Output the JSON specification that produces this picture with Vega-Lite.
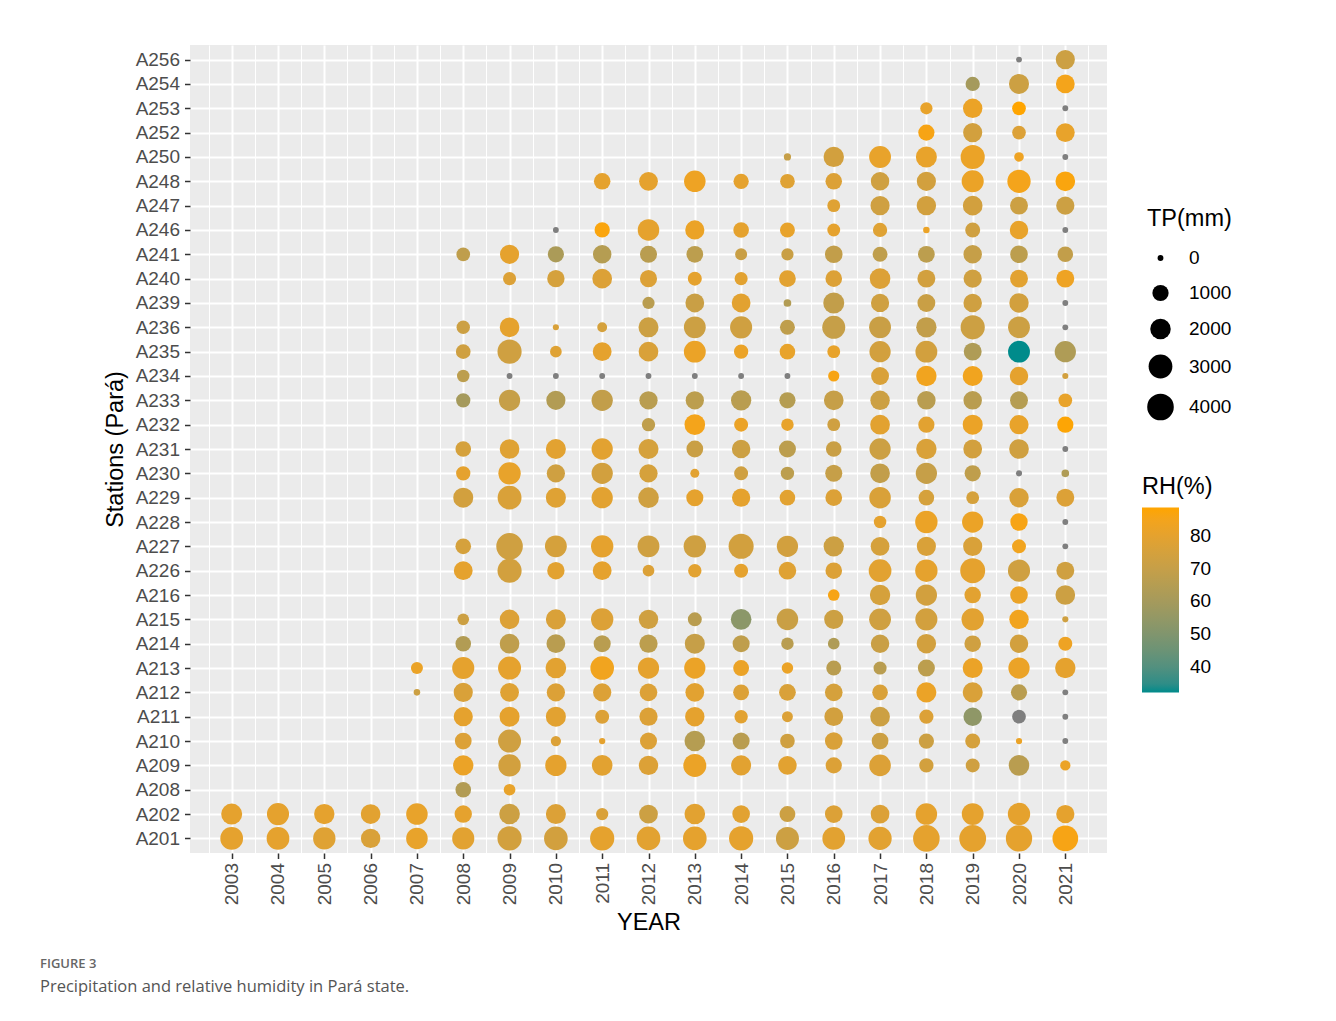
{
  "$schema": "https://vega.github.io/schema/vega-lite/v6.json",
  "autosize": "none",
  "padding": {"left": 190, "top": 45, "right": 229, "bottom": 168},
  "width": 917,
  "height": 808,
  "background": "white",
  "title": {
    "text": "FIGURE 3",
    "subtitle": "Precipitation and relative humidity in Pará state.",
    "orient": "bottom",
    "anchor": "start",
    "frame": "group",
    "dx": -150,
    "offset": 24,
    "font": "Open Sans",
    "fontSize": 13,
    "fontWeight": 600,
    "color": "#666666",
    "subtitleFont": "Open Sans",
    "subtitleFontSize": 16.5,
    "subtitleColor": "#555555",
    "subtitlePadding": 8
  },
  "config": {
    "font": "Liberation Sans",
    "view": {"fill": "#EBEBEB", "stroke": null},
    "axis": {
      "domain": false,
      "gridColor": "#FFFFFF",
      "labelFontSize": 19,
      "labelColor": "#4D4D4D",
      "tickColor": "#333333",
      "tickWidth": 1.5,
      "tickSize": 5.5,
      "titleFontSize": 23.5,
      "titleFontWeight": "normal",
      "titleColor": "#000000"
    },
    "legend": {
      "titleFontSize": 23.5,
      "titleFontWeight": "normal",
      "titleColor": "#000000",
      "labelFontSize": 19,
      "labelColor": "#000000"
    }
  },
  "data": {
    "values": [
      {"station": "A256", "year": 2020, "tp": 0, "rh": null},
      {"station": "A256", "year": 2021, "tp": 1670, "rh": 72},
      {"station": "A254", "year": 2019, "tp": 690, "rh": 60},
      {"station": "A254", "year": 2020, "tp": 1890, "rh": 72},
      {"station": "A254", "year": 2021, "tp": 1580, "rh": 85},
      {"station": "A253", "year": 2018, "tp": 400, "rh": 81},
      {"station": "A253", "year": 2019, "tp": 1730, "rh": 82},
      {"station": "A253", "year": 2020, "tp": 605, "rh": 88.5},
      {"station": "A253", "year": 2021, "tp": 0, "rh": null},
      {"station": "A252", "year": 2018, "tp": 1000, "rh": 86},
      {"station": "A252", "year": 2019, "tp": 1670, "rh": 74},
      {"station": "A252", "year": 2020, "tp": 605, "rh": 77},
      {"station": "A252", "year": 2021, "tp": 1580, "rh": 81},
      {"station": "A250", "year": 2015, "tp": 30, "rh": 70},
      {"station": "A250", "year": 2016, "tp": 1965, "rh": 74},
      {"station": "A250", "year": 2017, "tp": 2390, "rh": 81},
      {"station": "A250", "year": 2018, "tp": 2140, "rh": 81},
      {"station": "A250", "year": 2019, "tp": 3130, "rh": 82},
      {"station": "A250", "year": 2020, "tp": 140, "rh": 83},
      {"station": "A250", "year": 2021, "tp": 0, "rh": null},
      {"station": "A248", "year": 2011, "tp": 1070, "rh": 80},
      {"station": "A248", "year": 2012, "tp": 1580, "rh": 80},
      {"station": "A248", "year": 2013, "tp": 2290, "rh": 83},
      {"station": "A248", "year": 2014, "tp": 840, "rh": 80},
      {"station": "A248", "year": 2015, "tp": 745, "rh": 78},
      {"station": "A248", "year": 2016, "tp": 1070, "rh": 77},
      {"station": "A248", "year": 2017, "tp": 1515, "rh": 73},
      {"station": "A248", "year": 2018, "tp": 1670, "rh": 74},
      {"station": "A248", "year": 2019, "tp": 2470, "rh": 82},
      {"station": "A248", "year": 2020, "tp": 2835, "rh": 85},
      {"station": "A248", "year": 2021, "tp": 1800, "rh": 87},
      {"station": "A247", "year": 2016, "tp": 480, "rh": 78},
      {"station": "A247", "year": 2017, "tp": 1670, "rh": 73},
      {"station": "A247", "year": 2018, "tp": 1730, "rh": 74},
      {"station": "A247", "year": 2019, "tp": 1800, "rh": 74},
      {"station": "A247", "year": 2020, "tp": 1370, "rh": 72},
      {"station": "A247", "year": 2021, "tp": 1450, "rh": 72},
      {"station": "A246", "year": 2010, "tp": 0, "rh": null},
      {"station": "A246", "year": 2011, "tp": 840, "rh": 87},
      {"station": "A246", "year": 2012, "tp": 2290, "rh": 80},
      {"station": "A246", "year": 2013, "tp": 1670, "rh": 82},
      {"station": "A246", "year": 2014, "tp": 900, "rh": 80},
      {"station": "A246", "year": 2015, "tp": 790, "rh": 81},
      {"station": "A246", "year": 2016, "tp": 480, "rh": 80},
      {"station": "A246", "year": 2017, "tp": 690, "rh": 78},
      {"station": "A246", "year": 2018, "tp": 14, "rh": 82},
      {"station": "A246", "year": 2019, "tp": 790, "rh": 73},
      {"station": "A246", "year": 2020, "tp": 1515, "rh": 81},
      {"station": "A246", "year": 2021, "tp": 0, "rh": null},
      {"station": "A241", "year": 2008, "tp": 605, "rh": 68},
      {"station": "A241", "year": 2009, "tp": 1670, "rh": 80},
      {"station": "A241", "year": 2010, "tp": 1000, "rh": 62},
      {"station": "A241", "year": 2011, "tp": 1515, "rh": 65},
      {"station": "A241", "year": 2012, "tp": 1180, "rh": 66},
      {"station": "A241", "year": 2013, "tp": 1120, "rh": 67},
      {"station": "A241", "year": 2014, "tp": 370, "rh": 71},
      {"station": "A241", "year": 2015, "tp": 400, "rh": 71},
      {"station": "A241", "year": 2016, "tp": 1310, "rh": 69},
      {"station": "A241", "year": 2017, "tp": 790, "rh": 68},
      {"station": "A241", "year": 2018, "tp": 1120, "rh": 67},
      {"station": "A241", "year": 2019, "tp": 1515, "rh": 70},
      {"station": "A241", "year": 2020, "tp": 1310, "rh": 67},
      {"station": "A241", "year": 2021, "tp": 900, "rh": 69},
      {"station": "A240", "year": 2009, "tp": 515, "rh": 77},
      {"station": "A240", "year": 2010, "tp": 1250, "rh": 75},
      {"station": "A240", "year": 2011, "tp": 1800, "rh": 77},
      {"station": "A240", "year": 2012, "tp": 1180, "rh": 77},
      {"station": "A240", "year": 2013, "tp": 645, "rh": 80},
      {"station": "A240", "year": 2014, "tp": 515, "rh": 79},
      {"station": "A240", "year": 2015, "tp": 1120, "rh": 79},
      {"station": "A240", "year": 2016, "tp": 1070, "rh": 77},
      {"station": "A240", "year": 2017, "tp": 2040, "rh": 77},
      {"station": "A240", "year": 2018, "tp": 1370, "rh": 74},
      {"station": "A240", "year": 2019, "tp": 1450, "rh": 73},
      {"station": "A240", "year": 2020, "tp": 1370, "rh": 79},
      {"station": "A240", "year": 2021, "tp": 1370, "rh": 83},
      {"station": "A239", "year": 2012, "tp": 400, "rh": 66},
      {"station": "A239", "year": 2013, "tp": 1580, "rh": 71},
      {"station": "A239", "year": 2014, "tp": 1580, "rh": 79},
      {"station": "A239", "year": 2015, "tp": 42, "rh": 64},
      {"station": "A239", "year": 2016, "tp": 2140, "rh": 69},
      {"station": "A239", "year": 2017, "tp": 1450, "rh": 73},
      {"station": "A239", "year": 2018, "tp": 1370, "rh": 71},
      {"station": "A239", "year": 2019, "tp": 1515, "rh": 73},
      {"station": "A239", "year": 2020, "tp": 1730, "rh": 74},
      {"station": "A239", "year": 2021, "tp": 0, "rh": null},
      {"station": "A236", "year": 2008, "tp": 555, "rh": 72},
      {"station": "A236", "year": 2009, "tp": 1800, "rh": 80},
      {"station": "A236", "year": 2010, "tp": 5, "rh": 76},
      {"station": "A236", "year": 2011, "tp": 160, "rh": 75},
      {"station": "A236", "year": 2012, "tp": 1890, "rh": 72},
      {"station": "A236", "year": 2013, "tp": 2390, "rh": 72},
      {"station": "A236", "year": 2014, "tp": 2470, "rh": 73},
      {"station": "A236", "year": 2015, "tp": 790, "rh": 68},
      {"station": "A236", "year": 2016, "tp": 2750, "rh": 70},
      {"station": "A236", "year": 2017, "tp": 2390, "rh": 71},
      {"station": "A236", "year": 2018, "tp": 1965, "rh": 69},
      {"station": "A236", "year": 2019, "tp": 3130, "rh": 72},
      {"station": "A236", "year": 2020, "tp": 2390, "rh": 72},
      {"station": "A236", "year": 2021, "tp": 0, "rh": null},
      {"station": "A235", "year": 2008, "tp": 745, "rh": 73},
      {"station": "A235", "year": 2009, "tp": 3130, "rh": 73},
      {"station": "A235", "year": 2010, "tp": 330, "rh": 78},
      {"station": "A235", "year": 2011, "tp": 1580, "rh": 80},
      {"station": "A235", "year": 2012, "tp": 1800, "rh": 76},
      {"station": "A235", "year": 2013, "tp": 2390, "rh": 82},
      {"station": "A235", "year": 2014, "tp": 690, "rh": 82},
      {"station": "A235", "year": 2015, "tp": 900, "rh": 81},
      {"station": "A235", "year": 2016, "tp": 480, "rh": 81},
      {"station": "A235", "year": 2017, "tp": 2210, "rh": 74},
      {"station": "A235", "year": 2018, "tp": 2390, "rh": 74},
      {"station": "A235", "year": 2019, "tp": 1370, "rh": 63},
      {"station": "A235", "year": 2020, "tp": 2390, "rh": 32.4},
      {"station": "A235", "year": 2021, "tp": 2210, "rh": 63},
      {"station": "A234", "year": 2008, "tp": 430, "rh": 67},
      {"station": "A234", "year": 2009, "tp": 0, "rh": null},
      {"station": "A234", "year": 2010, "tp": 0, "rh": null},
      {"station": "A234", "year": 2011, "tp": 0, "rh": null},
      {"station": "A234", "year": 2012, "tp": 0, "rh": null},
      {"station": "A234", "year": 2013, "tp": 0, "rh": null},
      {"station": "A234", "year": 2014, "tp": 0, "rh": null},
      {"station": "A234", "year": 2015, "tp": 0, "rh": null},
      {"station": "A234", "year": 2016, "tp": 270, "rh": 86},
      {"station": "A234", "year": 2017, "tp": 1370, "rh": 76},
      {"station": "A234", "year": 2018, "tp": 1965, "rh": 84},
      {"station": "A234", "year": 2019, "tp": 1890, "rh": 84},
      {"station": "A234", "year": 2020, "tp": 1515, "rh": 80},
      {"station": "A234", "year": 2021, "tp": 5, "rh": 74},
      {"station": "A233", "year": 2008, "tp": 690, "rh": 60},
      {"station": "A233", "year": 2009, "tp": 2210, "rh": 70},
      {"station": "A233", "year": 2010, "tp": 1670, "rh": 64},
      {"station": "A233", "year": 2011, "tp": 2210, "rh": 69},
      {"station": "A233", "year": 2012, "tp": 1450, "rh": 66},
      {"station": "A233", "year": 2013, "tp": 1450, "rh": 67},
      {"station": "A233", "year": 2014, "tp": 1965, "rh": 66},
      {"station": "A233", "year": 2015, "tp": 1000, "rh": 65},
      {"station": "A233", "year": 2016, "tp": 1800, "rh": 70},
      {"station": "A233", "year": 2017, "tp": 1730, "rh": 72},
      {"station": "A233", "year": 2018, "tp": 1515, "rh": 66},
      {"station": "A233", "year": 2019, "tp": 1515, "rh": 66},
      {"station": "A233", "year": 2020, "tp": 1370, "rh": 65},
      {"station": "A233", "year": 2021, "tp": 605, "rh": 81},
      {"station": "A232", "year": 2012, "tp": 555, "rh": 68},
      {"station": "A232", "year": 2013, "tp": 2040, "rh": 85},
      {"station": "A232", "year": 2014, "tp": 645, "rh": 82},
      {"station": "A232", "year": 2015, "tp": 430, "rh": 81},
      {"station": "A232", "year": 2016, "tp": 480, "rh": 73},
      {"station": "A232", "year": 2017, "tp": 1800, "rh": 79},
      {"station": "A232", "year": 2018, "tp": 1000, "rh": 79},
      {"station": "A232", "year": 2019, "tp": 1890, "rh": 82},
      {"station": "A232", "year": 2020, "tp": 1670, "rh": 81},
      {"station": "A232", "year": 2021, "tp": 1000, "rh": 88},
      {"station": "A231", "year": 2008, "tp": 900, "rh": 75},
      {"station": "A231", "year": 2009, "tp": 1800, "rh": 78},
      {"station": "A231", "year": 2010, "tp": 1890, "rh": 79},
      {"station": "A231", "year": 2011, "tp": 2210, "rh": 79},
      {"station": "A231", "year": 2012, "tp": 1890, "rh": 75},
      {"station": "A231", "year": 2013, "tp": 1120, "rh": 71},
      {"station": "A231", "year": 2014, "tp": 1515, "rh": 72},
      {"station": "A231", "year": 2015, "tp": 1180, "rh": 67},
      {"station": "A231", "year": 2016, "tp": 900, "rh": 71},
      {"station": "A231", "year": 2017, "tp": 2210, "rh": 72},
      {"station": "A231", "year": 2018, "tp": 1965, "rh": 76},
      {"station": "A231", "year": 2019, "tp": 1580, "rh": 74},
      {"station": "A231", "year": 2020, "tp": 1800, "rh": 73},
      {"station": "A231", "year": 2021, "tp": 0, "rh": null},
      {"station": "A230", "year": 2008, "tp": 690, "rh": 80},
      {"station": "A230", "year": 2009, "tp": 2550, "rh": 81},
      {"station": "A230", "year": 2010, "tp": 1450, "rh": 73},
      {"station": "A230", "year": 2011, "tp": 2210, "rh": 74},
      {"station": "A230", "year": 2012, "tp": 1450, "rh": 75},
      {"station": "A230", "year": 2013, "tp": 100, "rh": 79},
      {"station": "A230", "year": 2014, "tp": 645, "rh": 73},
      {"station": "A230", "year": 2015, "tp": 555, "rh": 67},
      {"station": "A230", "year": 2016, "tp": 1180, "rh": 70},
      {"station": "A230", "year": 2017, "tp": 1800, "rh": 69},
      {"station": "A230", "year": 2018, "tp": 2210, "rh": 70},
      {"station": "A230", "year": 2019, "tp": 1000, "rh": 68},
      {"station": "A230", "year": 2020, "tp": 5, "rh": null},
      {"station": "A230", "year": 2021, "tp": 42, "rh": 63},
      {"station": "A229", "year": 2008, "tp": 1890, "rh": 74},
      {"station": "A229", "year": 2009, "tp": 3040, "rh": 76},
      {"station": "A229", "year": 2010, "tp": 1890, "rh": 78},
      {"station": "A229", "year": 2011, "tp": 2210, "rh": 79},
      {"station": "A229", "year": 2012, "tp": 2040, "rh": 73},
      {"station": "A229", "year": 2013, "tp": 1180, "rh": 80},
      {"station": "A229", "year": 2014, "tp": 1450, "rh": 80},
      {"station": "A229", "year": 2015, "tp": 900, "rh": 79},
      {"station": "A229", "year": 2016, "tp": 1120, "rh": 77},
      {"station": "A229", "year": 2017, "tp": 2290, "rh": 76},
      {"station": "A229", "year": 2018, "tp": 900, "rh": 75},
      {"station": "A229", "year": 2019, "tp": 480, "rh": 75},
      {"station": "A229", "year": 2020, "tp": 1730, "rh": 76},
      {"station": "A229", "year": 2021, "tp": 1370, "rh": 77},
      {"station": "A228", "year": 2017, "tp": 430, "rh": 80},
      {"station": "A228", "year": 2018, "tp": 2550, "rh": 82},
      {"station": "A228", "year": 2019, "tp": 2210, "rh": 82},
      {"station": "A228", "year": 2020, "tp": 1250, "rh": 86},
      {"station": "A228", "year": 2021, "tp": 0, "rh": null},
      {"station": "A227", "year": 2008, "tp": 900, "rh": 75},
      {"station": "A227", "year": 2009, "tp": 4000, "rh": 73},
      {"station": "A227", "year": 2010, "tp": 2390, "rh": 75},
      {"station": "A227", "year": 2011, "tp": 2550, "rh": 80},
      {"station": "A227", "year": 2012, "tp": 2390, "rh": 73},
      {"station": "A227", "year": 2013, "tp": 2550, "rh": 73},
      {"station": "A227", "year": 2014, "tp": 3440, "rh": 74},
      {"station": "A227", "year": 2015, "tp": 2210, "rh": 74},
      {"station": "A227", "year": 2016, "tp": 1965, "rh": 72},
      {"station": "A227", "year": 2017, "tp": 1580, "rh": 75},
      {"station": "A227", "year": 2018, "tp": 1670, "rh": 76},
      {"station": "A227", "year": 2019, "tp": 1670, "rh": 76},
      {"station": "A227", "year": 2020, "tp": 645, "rh": 84},
      {"station": "A227", "year": 2021, "tp": 0, "rh": null},
      {"station": "A226", "year": 2008, "tp": 1580, "rh": 80},
      {"station": "A226", "year": 2009, "tp": 3130, "rh": 74},
      {"station": "A226", "year": 2010, "tp": 1250, "rh": 79},
      {"station": "A226", "year": 2011, "tp": 1580, "rh": 80},
      {"station": "A226", "year": 2012, "tp": 330, "rh": 77},
      {"station": "A226", "year": 2013, "tp": 555, "rh": 79},
      {"station": "A226", "year": 2014, "tp": 645, "rh": 80},
      {"station": "A226", "year": 2015, "tp": 1310, "rh": 78},
      {"station": "A226", "year": 2016, "tp": 1070, "rh": 77},
      {"station": "A226", "year": 2017, "tp": 2665, "rh": 79},
      {"station": "A226", "year": 2018, "tp": 2550, "rh": 80},
      {"station": "A226", "year": 2019, "tp": 3400, "rh": 80},
      {"station": "A226", "year": 2020, "tp": 2470, "rh": 73},
      {"station": "A226", "year": 2021, "tp": 1370, "rh": 73},
      {"station": "A216", "year": 2016, "tp": 330, "rh": 86},
      {"station": "A216", "year": 2017, "tp": 1965, "rh": 75},
      {"station": "A216", "year": 2018, "tp": 2210, "rh": 74},
      {"station": "A216", "year": 2019, "tp": 1070, "rh": 79},
      {"station": "A216", "year": 2020, "tp": 1310, "rh": 82},
      {"station": "A216", "year": 2021, "tp": 1800, "rh": 72},
      {"station": "A215", "year": 2008, "tp": 330, "rh": 72},
      {"station": "A215", "year": 2009, "tp": 1800, "rh": 77},
      {"station": "A215", "year": 2010, "tp": 1890, "rh": 76},
      {"station": "A215", "year": 2011, "tp": 2550, "rh": 77},
      {"station": "A215", "year": 2012, "tp": 1730, "rh": 73},
      {"station": "A215", "year": 2013, "tp": 645, "rh": 66},
      {"station": "A215", "year": 2014, "tp": 2040, "rh": 53},
      {"station": "A215", "year": 2015, "tp": 2290, "rh": 71},
      {"station": "A215", "year": 2016, "tp": 1670, "rh": 72},
      {"station": "A215", "year": 2017, "tp": 2390, "rh": 73},
      {"station": "A215", "year": 2018, "tp": 2470, "rh": 74},
      {"station": "A215", "year": 2019, "tp": 2550, "rh": 79},
      {"station": "A215", "year": 2020, "tp": 1730, "rh": 84},
      {"station": "A215", "year": 2021, "tp": 5, "rh": 73},
      {"station": "A214", "year": 2008, "tp": 900, "rh": 64},
      {"station": "A214", "year": 2009, "tp": 1800, "rh": 68},
      {"station": "A214", "year": 2010, "tp": 1580, "rh": 66},
      {"station": "A214", "year": 2011, "tp": 1180, "rh": 66},
      {"station": "A214", "year": 2012, "tp": 1450, "rh": 67},
      {"station": "A214", "year": 2013, "tp": 1890, "rh": 70},
      {"station": "A214", "year": 2014, "tp": 1180, "rh": 68},
      {"station": "A214", "year": 2015, "tp": 430, "rh": 66},
      {"station": "A214", "year": 2016, "tp": 330, "rh": 63},
      {"station": "A214", "year": 2017, "tp": 1515, "rh": 71},
      {"station": "A214", "year": 2018, "tp": 1730, "rh": 74},
      {"station": "A214", "year": 2019, "tp": 1070, "rh": 73},
      {"station": "A214", "year": 2020, "tp": 1515, "rh": 74},
      {"station": "A214", "year": 2021, "tp": 645, "rh": 83},
      {"station": "A213", "year": 2007, "tp": 370, "rh": 82},
      {"station": "A213", "year": 2008, "tp": 2470, "rh": 80},
      {"station": "A213", "year": 2009, "tp": 2750, "rh": 80},
      {"station": "A213", "year": 2010, "tp": 2040, "rh": 79},
      {"station": "A213", "year": 2011, "tp": 2950, "rh": 84},
      {"station": "A213", "year": 2012, "tp": 2210, "rh": 80},
      {"station": "A213", "year": 2013, "tp": 2210, "rh": 82},
      {"station": "A213", "year": 2014, "tp": 950, "rh": 82},
      {"station": "A213", "year": 2015, "tp": 300, "rh": 82},
      {"station": "A213", "year": 2016, "tp": 790, "rh": 66},
      {"station": "A213", "year": 2017, "tp": 515, "rh": 66},
      {"station": "A213", "year": 2018, "tp": 1180, "rh": 67},
      {"station": "A213", "year": 2019, "tp": 1890, "rh": 82},
      {"station": "A213", "year": 2020, "tp": 2210, "rh": 82},
      {"station": "A213", "year": 2021, "tp": 1965, "rh": 80},
      {"station": "A212", "year": 2007, "tp": 14, "rh": 72},
      {"station": "A212", "year": 2008, "tp": 1670, "rh": 76},
      {"station": "A212", "year": 2009, "tp": 1580, "rh": 78},
      {"station": "A212", "year": 2010, "tp": 1450, "rh": 77},
      {"station": "A212", "year": 2011, "tp": 1450, "rh": 77},
      {"station": "A212", "year": 2012, "tp": 1310, "rh": 77},
      {"station": "A212", "year": 2013, "tp": 1580, "rh": 79},
      {"station": "A212", "year": 2014, "tp": 950, "rh": 77},
      {"station": "A212", "year": 2015, "tp": 1120, "rh": 76},
      {"station": "A212", "year": 2016, "tp": 1310, "rh": 75},
      {"station": "A212", "year": 2017, "tp": 900, "rh": 76},
      {"station": "A212", "year": 2018, "tp": 1890, "rh": 82},
      {"station": "A212", "year": 2019, "tp": 1890, "rh": 76},
      {"station": "A212", "year": 2020, "tp": 1000, "rh": 66},
      {"station": "A212", "year": 2021, "tp": 0, "rh": null},
      {"station": "A211", "year": 2008, "tp": 1670, "rh": 80},
      {"station": "A211", "year": 2009, "tp": 1890, "rh": 80},
      {"station": "A211", "year": 2010, "tp": 1890, "rh": 79},
      {"station": "A211", "year": 2011, "tp": 645, "rh": 77},
      {"station": "A211", "year": 2012, "tp": 1450, "rh": 77},
      {"station": "A211", "year": 2013, "tp": 1730, "rh": 80},
      {"station": "A211", "year": 2014, "tp": 555, "rh": 79},
      {"station": "A211", "year": 2015, "tp": 240, "rh": 77},
      {"station": "A211", "year": 2016, "tp": 1580, "rh": 74},
      {"station": "A211", "year": 2017, "tp": 1800, "rh": 72},
      {"station": "A211", "year": 2018, "tp": 690, "rh": 77},
      {"station": "A211", "year": 2019, "tp": 1515, "rh": 54},
      {"station": "A211", "year": 2020, "tp": 605, "rh": null},
      {"station": "A211", "year": 2021, "tp": 0, "rh": null},
      {"station": "A210", "year": 2008, "tp": 1120, "rh": 77},
      {"station": "A210", "year": 2009, "tp": 2750, "rh": 73},
      {"station": "A210", "year": 2010, "tp": 190, "rh": 77},
      {"station": "A210", "year": 2011, "tp": 9, "rh": 80},
      {"station": "A210", "year": 2012, "tp": 1180, "rh": 77},
      {"station": "A210", "year": 2013, "tp": 2040, "rh": 65},
      {"station": "A210", "year": 2014, "tp": 1180, "rh": 66},
      {"station": "A210", "year": 2015, "tp": 745, "rh": 73},
      {"station": "A210", "year": 2016, "tp": 1310, "rh": 76},
      {"station": "A210", "year": 2017, "tp": 1120, "rh": 72},
      {"station": "A210", "year": 2018, "tp": 840, "rh": 72},
      {"station": "A210", "year": 2019, "tp": 790, "rh": 75},
      {"station": "A210", "year": 2020, "tp": 9, "rh": 82},
      {"station": "A210", "year": 2021, "tp": 0, "rh": null},
      {"station": "A209", "year": 2008, "tp": 1965, "rh": 82},
      {"station": "A209", "year": 2009, "tp": 2550, "rh": 74},
      {"station": "A209", "year": 2010, "tp": 2210, "rh": 80},
      {"station": "A209", "year": 2011, "tp": 2040, "rh": 79},
      {"station": "A209", "year": 2012, "tp": 1730, "rh": 77},
      {"station": "A209", "year": 2013, "tp": 2750, "rh": 82},
      {"station": "A209", "year": 2014, "tp": 1890, "rh": 79},
      {"station": "A209", "year": 2015, "tp": 1515, "rh": 79},
      {"station": "A209", "year": 2016, "tp": 1000, "rh": 77},
      {"station": "A209", "year": 2017, "tp": 2290, "rh": 77},
      {"station": "A209", "year": 2018, "tp": 690, "rh": 74},
      {"station": "A209", "year": 2019, "tp": 645, "rh": 73},
      {"station": "A209", "year": 2020, "tp": 2040, "rh": 66},
      {"station": "A209", "year": 2021, "tp": 190, "rh": 82},
      {"station": "A208", "year": 2008, "tp": 900, "rh": 64},
      {"station": "A208", "year": 2009, "tp": 330, "rh": 81},
      {"station": "A202", "year": 2003, "tp": 2140, "rh": 80},
      {"station": "A202", "year": 2004, "tp": 2470, "rh": 80},
      {"station": "A202", "year": 2005, "tp": 1965, "rh": 80},
      {"station": "A202", "year": 2006, "tp": 1800, "rh": 79},
      {"station": "A202", "year": 2007, "tp": 2290, "rh": 81},
      {"station": "A202", "year": 2008, "tp": 1250, "rh": 80},
      {"station": "A202", "year": 2009, "tp": 2040, "rh": 72},
      {"station": "A202", "year": 2010, "tp": 1890, "rh": 77},
      {"station": "A202", "year": 2011, "tp": 400, "rh": 76},
      {"station": "A202", "year": 2012, "tp": 1580, "rh": 72},
      {"station": "A202", "year": 2013, "tp": 2040, "rh": 79},
      {"station": "A202", "year": 2014, "tp": 1310, "rh": 79},
      {"station": "A202", "year": 2015, "tp": 950, "rh": 72},
      {"station": "A202", "year": 2016, "tp": 1310, "rh": 77},
      {"station": "A202", "year": 2017, "tp": 1580, "rh": 77},
      {"station": "A202", "year": 2018, "tp": 2290, "rh": 80},
      {"station": "A202", "year": 2019, "tp": 2390, "rh": 80},
      {"station": "A202", "year": 2020, "tp": 2550, "rh": 80},
      {"station": "A202", "year": 2021, "tp": 1450, "rh": 80},
      {"station": "A201", "year": 2003, "tp": 2665, "rh": 80},
      {"station": "A201", "year": 2004, "tp": 2665, "rh": 80},
      {"station": "A201", "year": 2005, "tp": 2550, "rh": 78},
      {"station": "A201", "year": 2006, "tp": 1730, "rh": 76},
      {"station": "A201", "year": 2007, "tp": 2290, "rh": 81},
      {"station": "A201", "year": 2008, "tp": 2470, "rh": 79},
      {"station": "A201", "year": 2009, "tp": 3130, "rh": 74},
      {"station": "A201", "year": 2010, "tp": 2950, "rh": 74},
      {"station": "A201", "year": 2011, "tp": 3130, "rh": 80},
      {"station": "A201", "year": 2012, "tp": 2950, "rh": 79},
      {"station": "A201", "year": 2013, "tp": 2950, "rh": 80},
      {"station": "A201", "year": 2014, "tp": 3130, "rh": 80},
      {"station": "A201", "year": 2015, "tp": 2750, "rh": 72},
      {"station": "A201", "year": 2016, "tp": 2665, "rh": 79},
      {"station": "A201", "year": 2017, "tp": 2835, "rh": 79},
      {"station": "A201", "year": 2018, "tp": 4000, "rh": 80},
      {"station": "A201", "year": 2019, "tp": 4100, "rh": 80},
      {"station": "A201", "year": 2020, "tp": 3900, "rh": 80},
      {"station": "A201", "year": 2021, "tp": 3665, "rh": 86}
    ]
  },
  "encoding": {
    "x": {
      "field": "year",
      "type": "quantitative",
      "title": "YEAR",
      "scale": {"domain": [2002.1, 2021.9], "nice": false, "zero": false},
      "axis": {
        "values": [2002.5, 2003, 2003.5, 2004, 2004.5, 2005, 2005.5, 2006, 2006.5, 2007, 2007.5, 2008, 2008.5, 2009, 2009.5, 2010, 2010.5, 2011, 2011.5, 2012, 2012.5, 2013, 2013.5, 2014, 2014.5, 2015, 2015.5, 2016, 2016.5, 2017, 2017.5, 2018, 2018.5, 2019, 2019.5, 2020, 2020.5, 2021, 2021.5],
        "labelExpr": "datum.value % 1 === 0 ? format(datum.value, 'd') : ''",
        "labelAngle": -90,
        "labelAlign": "right",
        "labelBaseline": "middle",
        "labelPadding": 4,
        "labelOverlap": false,
        "labelFlush": false,
        "tickOpacity": {"condition": {"test": "datum.value % 1 !== 0", "value": 0}, "value": 1},
        "gridWidth": {"condition": {"test": "datum.value % 1 !== 0", "value": 1}, "value": 2},
        "titlePadding": 6
      }
    },
    "y": {
      "field": "station",
      "type": "nominal",
      "title": "Stations (Pará)",
      "scale": {
        "domain": ["A256", "A254", "A253", "A252", "A250", "A248", "A247", "A246", "A241", "A240", "A239", "A236", "A235", "A234", "A233", "A232", "A231", "A230", "A229", "A228", "A227", "A226", "A216", "A215", "A214", "A213", "A212", "A211", "A210", "A209", "A208", "A202", "A201"],
        "padding": 0.6
      },
      "axis": {"grid": true, "gridWidth": 2, "labelPadding": 5, "titlePadding": 8}
    },
    "size": {
      "field": "tp",
      "type": "quantitative",
      "title": "TP(mm)",
      "scale": {
        "domain": [0, 62.5, 250, 1000, 2250, 4000, 5000],
        "range": [34.2, 71.3, 121.7, 263, 458.1, 706.9, 842.9],
        "zero": false,
        "nice": false
      },
      "legend": {
        "orient": "none",
        "legendX": 957,
        "legendY": 162,
        "values": [0, 1000, 2000, 3000, 4000],
        "format": "d",
        "symbolType": "circle",
        "symbolFillColor": "#000000",
        "symbolStrokeWidth": 0,
        "symbolOpacity": 1,
        "rowPadding": 15,
        "labelOffset": 15,
        "titlePadding": 18,
        "encode": {
          "symbols": {
            "update": {
              "fill": {"value": "#000000"},
              "stroke": {"value": "#000000"},
              "strokeWidth": {"value": 0},
              "opacity": {"value": 1}
            }
          }
        }
      }
    }
  },
  "layer": [
    {
      "transform": [{"filter": "isValid(datum.rh)"}],
      "mark": {"type": "circle", "opacity": 1, "strokeWidth": 0},
      "encoding": {
        "color": {
          "field": "rh",
          "type": "quantitative",
          "title": "RH(%)",
          "scale": {"domain": [32.4, 88.5], "range": ["#008B8B", "#FFA500"], "interpolate": "lab", "nice": false, "zero": false},
          "legend": {
            "orient": "none",
            "legendX": 952,
            "legendY": 430,
            "direction": "vertical",
            "gradientLength": 185,
            "gradientThickness": 37,
            "gradientStrokeWidth": 0,
            "values": [40, 50, 60, 70, 80],
            "labelOffset": 11,
            "titlePadding": 9
          }
        }
      }
    },
    {
      "transform": [{"filter": "!isValid(datum.rh)"}],
      "mark": {"type": "circle", "opacity": 1, "strokeWidth": 0, "color": "#7F7F7F"},
      "encoding": {}
    }
  ]
}
